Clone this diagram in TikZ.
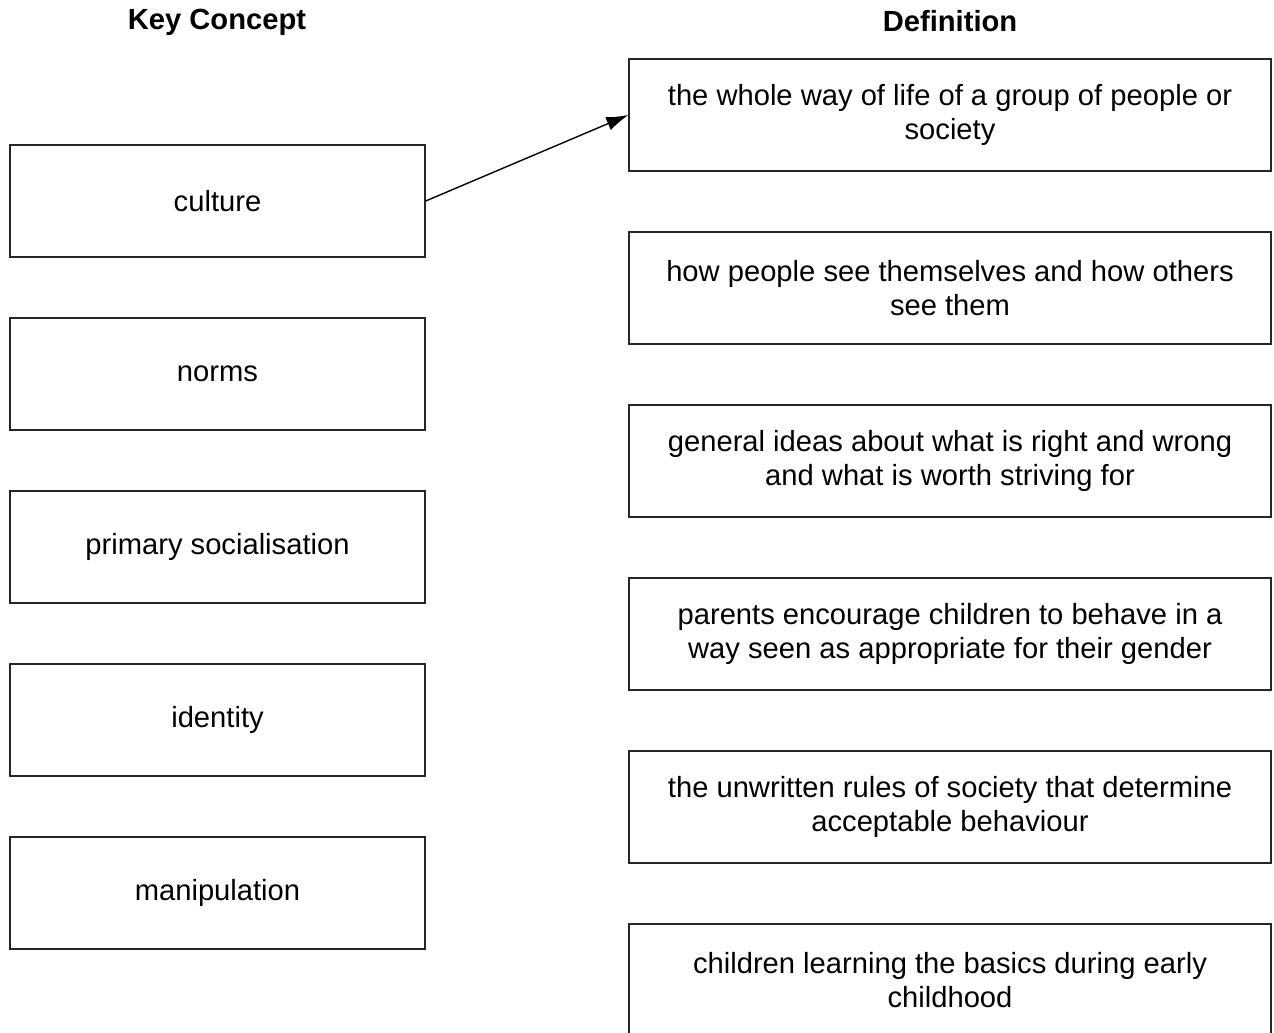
\documentclass[tikz,border=0pt]{standalone}
\usepackage{fontspec}
\setmainfont{Liberation Sans}
\usepackage{tikz}
\usetikzlibrary{arrows.meta}
\tikzset{box/.style={rectangle,draw=black!85,line width=0.8pt,minimum height=2.24cm,inner sep=0pt,align=center,font=\fontsize{16.6}{19}\selectfont},
kc/.style={box,minimum width=8.3cm},
df/.style={box,minimum width=12.84cm},
hd/.style={font=\fontsize{16.6}{19}\selectfont\bfseries}}

\begin{document}
\begin{tikzpicture}[x=0.02cm,y=-0.02cm]
        \useasboundingbox (0,0) rectangle (1274,1032);
        \node[hd] (h1)at (217,22) {Key Concept};
        \node[hd] (h2)at (950,21) {Definition};

        \node[kc] (a)at (217.5,201) {culture};
        \node[kc] (b)at (217.5,374) {norms};
        \node[kc] (c)at (217.5,547) {primary socialisation};
        \node[kc] (d)at (217.5,720) {identity};
        \node[kc] (e)at (217.5,893) {manipulation};

        \node[df] (p)at (950,115) {the whole way of life of a group of people or\\society};
        \node[df] (q)at (950,288) {how people see themselves and how others\\see them};
        \node[df] (r)at (950,461) {general ideas about what is right and wrong\\and what is worth striving for};
        \node[df] (s)at (950,634) {parents encourage children to behave in a\\way seen as appropriate for their gender};
        \node[df] (t)at (950,807) {the unwritten rules of society that determine\\acceptable behaviour};
        \node[df] (u)at (950,980) {children learning the basics during early\\childhood};

        \draw [-{Latex[length=4.4mm,width=2.8mm]},line width=0.8pt] (a.east) to (p.west);
    \end{tikzpicture}
\end{document}
